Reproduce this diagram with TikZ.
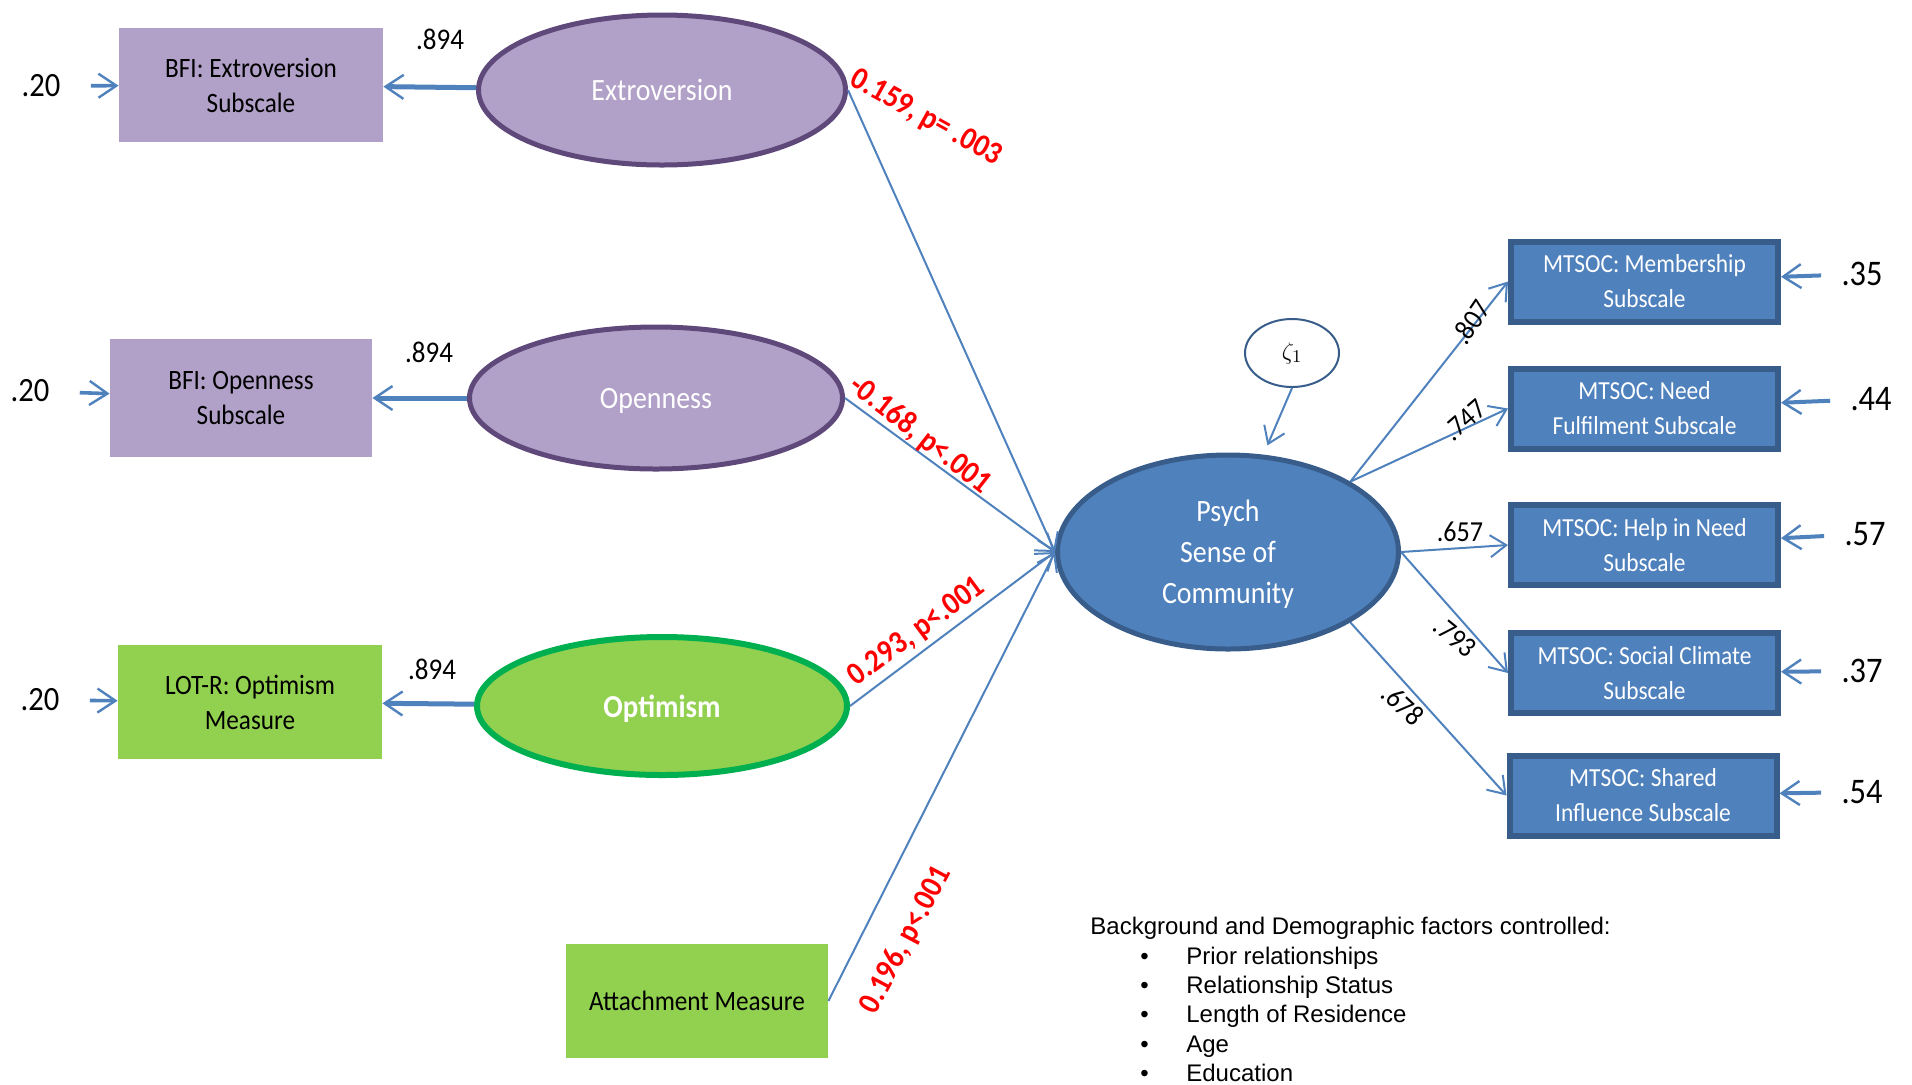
\documentclass[tikz,border=0pt]{standalone}
\usepackage{fontspec}
\setmainfont{Carlito}[FakeStretch=0.9]
\newfontfamily\notesfont{Liberation Sans}
\usepackage{tikz}
\usetikzlibrary{shapes.geometric, arrows.meta, positioning}
\definecolor{semblue}{HTML}{4F81BD}
\definecolor{semdarkblue}{HTML}{385D8A}
\definecolor{sempurple}{HTML}{B1A0C7}
\definecolor{semdarkpurple}{HTML}{5F497A}
\definecolor{semgreen}{HTML}{92D050}
\definecolor{semdarkgreen}{HTML}{00B050}
\definecolor{semred}{HTML}{FF0000}

\begin{document}
\begin{tikzpicture}[
    x=0.5pt, y=-0.5pt,
    indbox/.style={rectangle, fill=#1, minimum width=132pt, minimum height=57pt, inner sep=2pt, font=\fontsize{14}{17.5}\selectfont, align=center},
    depbox/.style={rectangle, draw=semdarkblue, line width=3pt, fill=semblue, text=white, minimum width=133.5pt, minimum height=40pt, inner sep=1pt, font=\fontsize{13}{17.5}\selectfont, align=center},
    latent/.style={ellipse, fill=#1, line width=2.5pt, inner sep=0pt, text depth=0pt, text=white, font=\fontsize{15.5}{20.5}\selectfont, align=center},
    effect/.style={-{Straight Barb[length=8pt, width=11pt, line width=1pt]}, line width=1pt, color=semblue},
    loading/.style={-{Straight Barb[length=9pt, width=12pt, line width=1.2pt]}, line width=2.5pt, color=semblue},
    resid/.style={-{Straight Barb[length=9pt, width=12pt, line width=1.2pt]}, line width=1.8pt, color=semblue, shorten <=#1},
    coef/.style={font=\bfseries\fontsize{16}{16}\selectfont, text=semred, inner sep=0pt},
    weight/.style={font=\fontsize{14.5}{14.5}\selectfont, inner sep=0pt},
    errlabel/.style={font=\fontsize{#1}{#1}\selectfont, inner sep=0pt},
    notes/.style={font=\notesfont\fontsize{12}{14.65}\selectfont, align=left, inner sep=0pt}
]
\useasboundingbox (0,0) rectangle (1912,1084);

% Predictors
\node[latent=sempurple, draw=semdarkpurple, minimum width=183.5pt, minimum height=75pt] (extro) at (662,90) {Extroversion};
\node[latent=sempurple, draw=semdarkpurple, minimum width=186.5pt, minimum height=71pt] (open) at (656,398) {Openness};
\node[latent=semgreen, draw=semdarkgreen, line width=3pt, minimum width=185pt, minimum height=69pt, font=\bfseries\fontsize{16}{20}\selectfont] (optim) at (662,706) {Optimism};
\node[indbox=semgreen, minimum width=131pt] (attach) at (697,1001) {Attachment Measure};

% Indicators of the predictors
\node[indbox=sempurple] (bfiext) at (251,85) {BFI: Extroversion\\Subscale};
\node[indbox=sempurple, minimum width=131pt, minimum height=59pt] (bfiopen) at (241,398) {BFI: Openness\\Subscale};
\node[indbox=semgreen] (lotr) at (250,702) {LOT-R: Optimism\\Measure};

\node[errlabel=17] (e20a) at (41,86) {.20};
\node[errlabel=17] (e20b) at (30,391) {.20};
\node[errlabel=17] (e20c) at (40,700) {.20};

\node[errlabel=15] (l894a) at (440,39) {.894};
\node[errlabel=15] (l894b) at (429,352) {.894};
\node[errlabel=15] (l894c) at (432,669) {.894};

\draw[loading] (extro) -- (bfiext);
\draw[loading] (open) -- (bfiopen);
\draw[loading] (optim) -- (lotr);
\draw[resid=15pt] (e20a) -- (bfiext);
\draw[resid=15pt] (e20b) -- (bfiopen);
\draw[resid=15pt] (e20c) -- (lotr);

% Outcome
\node[latent=semblue, draw=semdarkblue, minimum width=170.5pt, minimum height=97pt] (psych) at (1228,552) {Psych\\Sense of\\Community};
\node[ellipse, draw=semdarkblue, line width=1pt, fill=white, minimum width=47pt, minimum height=34pt, inner sep=0pt, font=\fontsize{13}{13}\selectfont] (zeta) at (1292,353) {$\zeta_{1}$};
\draw[effect, shorten >=5pt] (zeta.south) -- (psych.70);

\draw[effect] (extro.east) -- (psych.west);
\draw[effect] (open.east) -- (psych.west);
\draw[effect] (optim.east) -- (psych.west);
\draw[effect] (attach.east) -- (psych.west);

\node[coef, rotate=-29] (cextro) at (926,118) {0.159, p= .003};
\node[coef, rotate=-38] (copen) at (920,435) {-0.168, p<.001};
\node[coef, rotate=36.5] (coptim) at (917,632) {0.293, p<.001};
\node[coef, rotate=62] (cattach) at (906,940) {0.196, p<.001};

% MTSOC subscales
\node[depbox] (mem) at (1644.5,281.5) {MTSOC: Membership\\Subscale};
\node[depbox] (need) at (1644.5,408.5) {MTSOC: Need\\Fulfilment Subscale};
\node[depbox] (help) at (1644.5,545) {MTSOC: Help in Need\\Subscale};
\node[depbox] (social) at (1644.5,673) {MTSOC: Social Climate\\Subscale};
\node[depbox] (shared) at (1643,795.5) {MTSOC: Shared\\Influence Subscale};

\draw[effect] (psych.north east) -- (mem.west);
\draw[effect] (psych.north east) -- (need.west);
\draw[effect] (psych.east) -- (help.west);
\draw[effect] (psych.east) -- (social.west);
\draw[effect] (psych.south east) -- (shared.west);

\node[weight, rotate=56] (w807) at (1471,322) {.807};
\node[weight, rotate=41] (w747) at (1465,420) {.747};
\node[weight] (w657) at (1460,532) {.657};
\node[weight, rotate=-39] (w793) at (1455,637) {.793};
\node[weight, rotate=-43] (w678) at (1403,705) {.678};

\node[errlabel=18] (e35) at (1862,274) {.35};
\node[errlabel=18] (e44) at (1871,399) {.44};
\node[errlabel=18] (e57) at (1865,534) {.57};
\node[errlabel=18] (e37) at (1862,671) {.37};
\node[errlabel=18] (e54) at (1862,792) {.54};

\draw[resid=10pt, line width=2pt] (e35) -- (mem);
\draw[resid=10pt, line width=2pt] (e44) -- (need);
\draw[resid=10pt, line width=2pt] (e57) -- (help);
\draw[resid=10pt, line width=2pt] (e37) -- (social);
\draw[resid=10pt, line width=2pt] (e54) -- (shared);

% Controlled factors
\node[notes, anchor=north west] (controls) at (1090,917) {Background and Demographic factors controlled:\\
\hspace*{25pt}•\hspace{18.8pt}Prior relationships\\
\hspace*{25pt}•\hspace{18.8pt}Relationship Status\\
\hspace*{25pt}•\hspace{18.8pt}Length of Residence\\
\hspace*{25pt}•\hspace{18.8pt}Age\\
\hspace*{25pt}•\hspace{18.8pt}Education};

\end{tikzpicture}
\end{document}
